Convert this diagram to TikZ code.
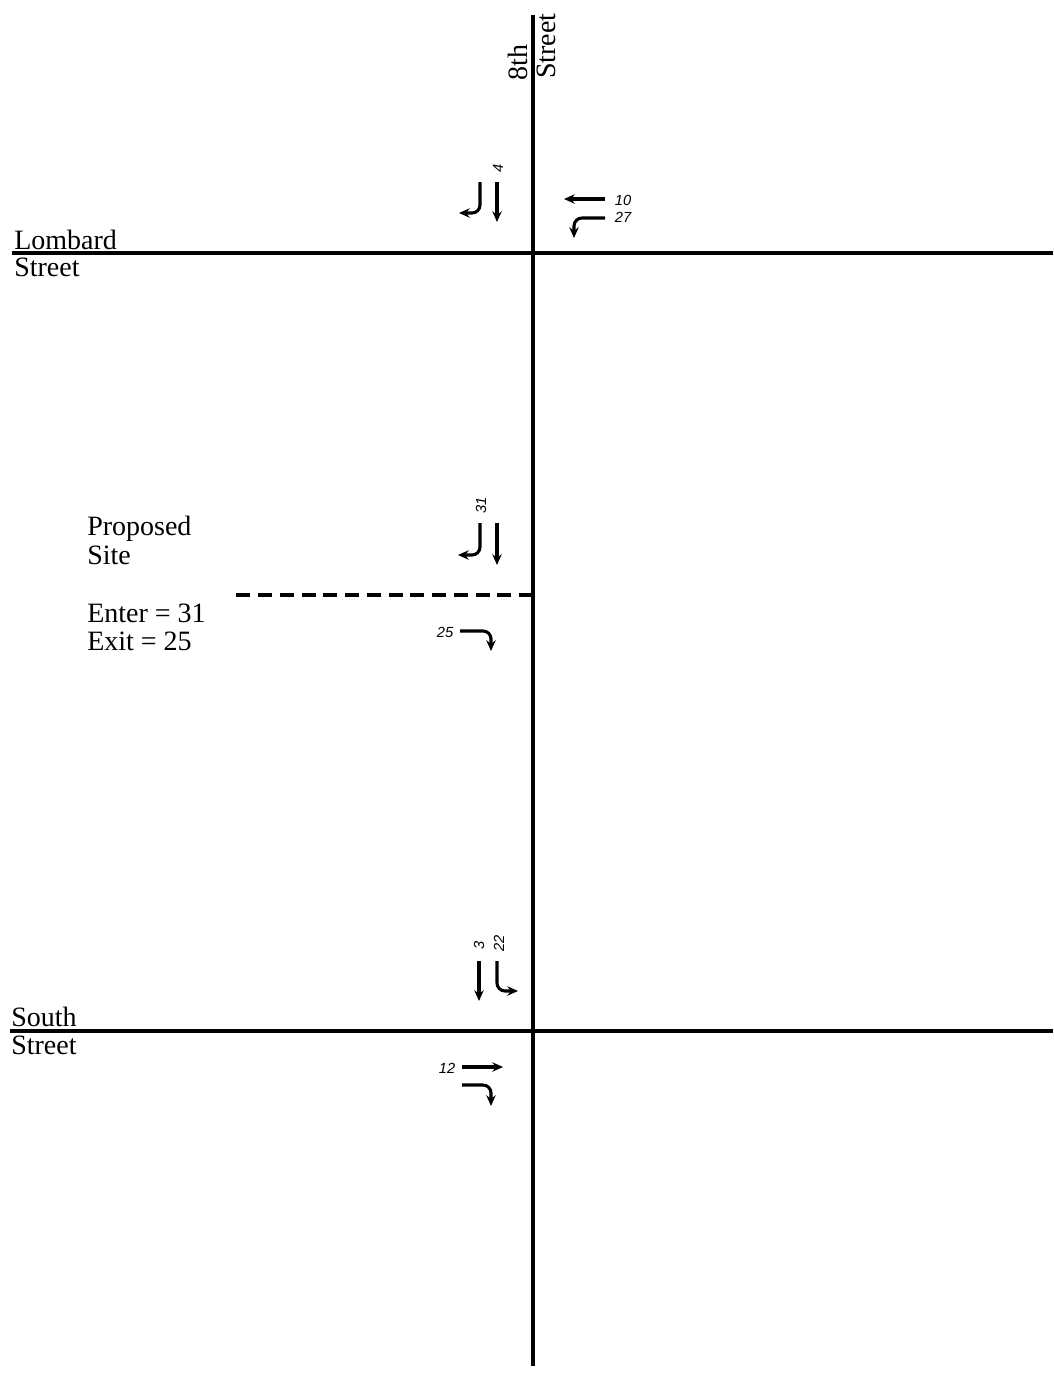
\documentclass[tikz,border=0pt]{standalone}
\usepackage{fontspec}
\setmainfont{Liberation Serif}
\newfontfamily\numfont{Liberation Sans}
\usetikzlibrary{arrows.meta}
\tikzset{
  road/.style={line width=2.3pt},
  siteline/.style={line width=2.3pt, dash pattern=on 10.5pt off 5.8pt},
  mvt/.style={line width=2.3pt, rounded corners=6pt, -{Stealth[length=8pt,width=7pt]}},
  lbl/.style={font=\fontsize{21}{25}\selectfont, inner sep=0pt, anchor=base west},
  vol/.style={font=\numfont\itshape\fontsize{11}{13}\selectfont, inner sep=0pt},
  vvol/.style={vol, rotate=90}
}
\begin{document}
\begin{tikzpicture}[x=0.75pt,y=-0.75pt]
\useasboundingbox (0,0) rectangle (1053,1374);
% roads
\coordinate (nTop) at (533,15);
\coordinate (nBot) at (533,1366);
\coordinate (lW) at (12,253);
\coordinate (lE) at (1053,253);
\coordinate (sW) at (10,1031);
\coordinate (sE) at (1053,1031);
\coordinate (dW) at (235,595);
\coordinate (dE) at (533,595);
\draw[road] (nTop) -- (nBot);
\draw[road] (lW) -- (lE);
\draw[road] (sW) -- (sE);
\draw[siteline] (dE) -- (dW);
% street names
\node[lbl] (lomb) at (14,249) {Lombard};
\node[lbl] (lombst) at (14,276) {Street};
\node[lbl] (south) at (11,1026) {South};
\node[lbl] (southst) at (11,1054) {Street};
\node[lbl, rotate=90] (eighth) at (527,81) {8th};
\node[lbl, rotate=90] (eighthst) at (555,79) {Street};
% site text
\node[lbl] (prop) at (87,535) {Proposed};
\node[lbl] (site) at (87,564) {Site};
\node[lbl] (enter) at (87,622) {Enter = 31};
\node[lbl] (exit) at (87,650) {Exit = 25};
% Lombard intersection
\coordinate (a1s) at (480,182); \coordinate (a1e) at (459,213);
\draw[mvt] (a1s) |- (a1e);
\coordinate (a2s) at (497,182); \coordinate (a2e) at (497,222);
\draw[mvt] (a2s) -- (a2e);
\node[vvol] (v4) at (498,168) {4};
\coordinate (a3s) at (605,199); \coordinate (a3e) at (564,199);
\draw[mvt] (a3s) -- (a3e);
\coordinate (a4s) at (605,218); \coordinate (a4e) at (574,238);
\draw[mvt] (a4s) -| (a4e);
\node[vol] (v10) at (623,200) {10};
\node[vol] (v27) at (623,217) {27};
% site driveway
\coordinate (b1s) at (480,523); \coordinate (b1e) at (458,555);
\draw[mvt] (b1s) |- (b1e);
\coordinate (b2s) at (497,523); \coordinate (b2e) at (497,565);
\draw[mvt] (b2s) -- (b2e);
\node[vvol] (v31) at (481,505) {31};
\coordinate (b3s) at (460,631); \coordinate (b3e) at (491,651);
\draw[mvt] (b3s) -| (b3e);
\node[vol] (v25) at (445,632) {25};
% South intersection
\coordinate (c1s) at (479,961); \coordinate (c1e) at (479,1001);
\draw[mvt] (c1s) -- (c1e);
\coordinate (c2s) at (497,961); \coordinate (c2e) at (518,991);
\draw[mvt] (c2s) |- (c2e);
\node[vvol] (v3) at (479,945) {3};
\node[vvol] (v22) at (499,943) {22};
\coordinate (c3s) at (462,1067); \coordinate (c3e) at (503,1067);
\draw[mvt] (c3s) -- (c3e);
\coordinate (c4s) at (462,1085); \coordinate (c4e) at (491,1106);
\draw[mvt] (c4s) -| (c4e);
\node[vol] (v12) at (447,1068) {12};
\end{tikzpicture}
\end{document}
